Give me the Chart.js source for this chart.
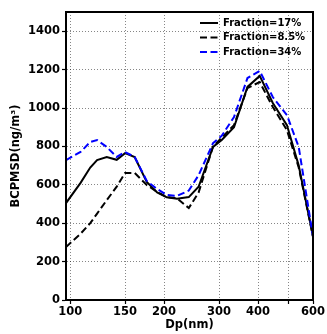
<!DOCTYPE html>
<html>
<head>
<meta charset="utf-8">
<script src="https://cdn.jsdelivr.net/npm/chart.js@4"></script>
<style>
  html, body { margin: 0; padding: 0; background: #fff; }
  #wrap { width: 327px; height: 334px; }
</style>
</head>
<body>
<div id="wrap"><canvas id="bc"></canvas></div>
<script>
// particle diameter bins (nm)
const dp = [97, 108, 116, 122, 131, 141, 150, 161, 176, 190, 204, 220, 240, 258, 287, 306, 335, 370, 405, 446, 495, 540, 600]
const frac17 = [505, 610, 690, 729, 744, 730, 765, 745, 615, 560, 535, 528, 536, 590, 797, 833, 900, 1110, 1167, 1026, 911, 700, 330]
const frac85 = [276, 345, 400, 450, 520, 590, 662, 662, 599, 563, 536, 530, 479, 560, 800, 845, 911, 1104, 1135, 1005, 885, 690, 330]
const frac34 = [729, 771, 823, 833, 797, 745, 771, 745, 620, 578, 547, 542, 570, 650, 817, 855, 953, 1156, 1193, 1057, 963, 797, 330]

const xTicks = [100, 150, 200, 300, 400, 500, 600]
const xTickLabels = ['100', '150', '200', '300', '400', '', '600']
const yTicks = [0, 200, 400, 600, 800, 1000, 1200, 1400]

function pts(vals){
    return dp.map((d, i) => ({x: d, y: vals[i]}))
}

const font = {family: 'DejaVu Sans', weight: 'bold', size: 11.5}
const gridStyle = {color: 'rgba(0,0,0,0.6)', lineWidth: 0.8, tickLength: 4, tickColor: '#000', tickWidth: 1.2}

// frame + legend inside the axes
const framePlugin = {
    id: 'frame',
    afterDraw(chart){
        const ctx = chart.ctx
        const a = chart.chartArea
        ctx.save()
        ctx.strokeStyle = '#000'
        ctx.lineWidth = 2
        ctx.strokeRect(a.left, a.top, a.right - a.left, a.bottom - a.top)
        ctx.font = 'bold 10px "DejaVu Sans"'
        ctx.textBaseline = 'middle'
        chart.data.datasets.forEach((ds, i) => {
            const y = a.top + 11 + i * 14.5
            ctx.beginPath()
            ctx.strokeStyle = ds.borderColor
            ctx.lineWidth = 2
            ctx.setLineDash(ds.borderDash || [])
            ctx.moveTo(a.left + 134, y)
            ctx.lineTo(a.left + 152, y)
            ctx.stroke()
            ctx.setLineDash([])
            ctx.fillStyle = '#000'
            ctx.fillText(ds.label, a.left + 157, y)
        })
        ctx.restore()
    }
}

new Chart(document.getElementById('bc').getContext('2d'), {
    type: 'line',
    data: {
        datasets: [
            {
                label: 'Fraction=17%',
                data: pts(frac17),
                borderColor: '#000',
                borderWidth: 2,
                pointRadius: 0,
                order: 1
            },
            {
                label: 'Fraction=8.5%',
                data: pts(frac85),
                borderColor: '#000',
                borderWidth: 2,
                borderDash: [7, 3.5],
                pointRadius: 0,
                order: 2
            },
            {
                label: 'Fraction=34%',
                data: pts(frac34),
                borderColor: '#0000ff',
                borderWidth: 2,
                borderDash: [7, 3.5],
                pointRadius: 0,
                order: 0
            }
        ]
    },
    options: {
        responsive: true,
        maintainAspectRatio: false,
        animation: false,
        layout: {padding: {left: 0, top: 12, right: 14, bottom: 0}},
        plugins: {
            legend: {display: false},
            tooltip: {enabled: false}
        },
        scales: {
            x: {
                type: 'logarithmic',
                min: 97,
                max: 600,
                afterBuildTicks: (s) => { s.ticks = xTicks.map(v => ({value: v})) },
                afterFit: (s) => { s.height = 34 },
                ticks: {
                    color: '#000',
                    font: font,
                    padding: 1,
                    maxRotation: 0,
                    autoSkip: false,
                    callback: (v) => xTickLabels[xTicks.indexOf(v)]
                },
                grid: gridStyle,
                border: {display: true, color: '#000', width: 2, dash: [1, 2]},
                title: {display: true, text: 'Dp(nm)', color: '#000', font: font, padding: {top: 0, bottom: 2}}
            },
            y: {
                min: 0,
                max: 1500,
                afterBuildTicks: (s) => { s.ticks = yTicks.map(v => ({value: v})) },
                afterFit: (s) => { s.width = 66 },
                ticks: {color: '#000', font: font, padding: 2, callback: (v) => String(v)},
                grid: gridStyle,
                border: {display: true, color: '#000', width: 2, dash: [1, 2]},
                title: {display: true, text: 'BCPMSD(ng/m³)', color: '#000', font: font, padding: {top: 9, bottom: 0}}
            }
        }
    },
    plugins: [framePlugin]
})
</script>
</body>
</html>
